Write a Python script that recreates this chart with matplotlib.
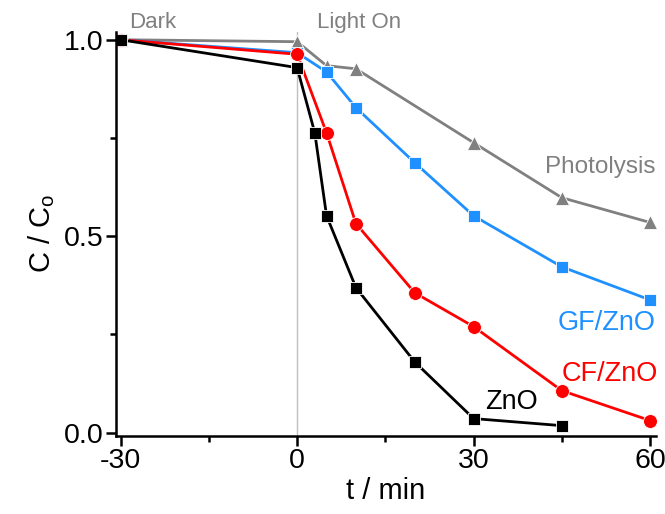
import matplotlib
matplotlib.use("Agg")
import matplotlib.pyplot as plt
from matplotlib.ticker import MultipleLocator

plt.rcParams['font.family'] = ['Liberation Sans', 'DejaVu Sans']
plt.rcParams['axes.unicode_minus'] = False

t_photo = [-30, 0, 5, 10, 30, 45, 60]
c_photo = [1.0, 0.995, 0.934, 0.926, 0.738, 0.598, 0.535]

t_gf = [-30, 0, 5, 10, 20, 30, 45, 60]
c_gf = [1.0, 0.967, 0.918, 0.827, 0.687, 0.552, 0.422, 0.338]

t_cf = [-30, 0, 5, 10, 20, 30, 45, 60]
c_cf = [1.0, 0.963, 0.763, 0.532, 0.356, 0.27, 0.107, 0.031]

t_zno = [-30, 0, 3, 5, 10, 20, 30, 45]
c_zno = [1.0, 0.929, 0.763, 0.552, 0.369, 0.18, 0.036, 0.018]

fig = plt.figure(figsize=(6.65, 5.14), dpi=100)
ax = fig.add_axes([0.1744, 0.152, 0.812, 0.786])

ax.axvline(0, color='#c0c0c0', lw=1.0, zorder=0)

lw = 2.0
ax.plot(t_photo, c_photo, color='#808080', marker='^', ms=10, lw=lw, mec='white', mew=0.6)
ax.plot(t_gf, c_gf, color='#1E90FF', marker='s', ms=8.5, lw=lw, mec='white', mew=0.6)
ax.plot(t_cf, c_cf, color='#FF0000', marker='o', ms=10, lw=lw, mec='white', mew=0.6)
ax.plot(t_zno, c_zno, color='black', marker='s', ms=9, lw=lw, mec='white', mew=0.6)

ax.set_xlim(-30.8, 61.0)
ax.set_ylim(-0.008, 1.02)
ax.xaxis.set_major_locator(MultipleLocator(30))
ax.xaxis.set_minor_locator(MultipleLocator(15))
ax.yaxis.set_minor_locator(MultipleLocator(0.25))
ax.set_yticks([0.0, 0.5, 1.0])
ax.set_yticklabels(['0.0', '0.5', '1.0'])

for s in ['top', 'right']:
    ax.spines[s].set_visible(False)
for s in ['left', 'bottom']:
    ax.spines[s].set_linewidth(1.8)

ax.tick_params(which='major', direction='out', length=7, width=1.8, labelsize=20.5, pad=2)
ax.tick_params(which='minor', direction='out', length=4, width=1.8)

ax.set_xlabel('t / min', fontsize=21, labelpad=2)
ax.set_ylabel('C / C$_\\mathregular{o}$', fontsize=21, labelpad=5)

ax.text(-28.5, 1.043, 'Dark', color='#808080', fontsize=16, ha='left', va='center', clip_on=False)
ax.text(3.3, 1.043, 'Light On', color='#808080', fontsize=16, ha='left', va='center', clip_on=False)
ax.text(61.0, 0.675, 'Photolysis', color='#808080', fontsize=17.5, ha='right', va='center')
ax.text(61.0, 0.28, 'GF/ZnO', color='#1E90FF', fontsize=19.5, ha='right', va='center')
ax.text(61.3, 0.15, 'CF/ZnO', color='#FF0000', fontsize=19.5, ha='right', va='center')
ax.text(32.0, 0.078, 'ZnO', color='black', fontsize=19.5, ha='left', va='center')

fig.savefig('out.png', dpi=100)
